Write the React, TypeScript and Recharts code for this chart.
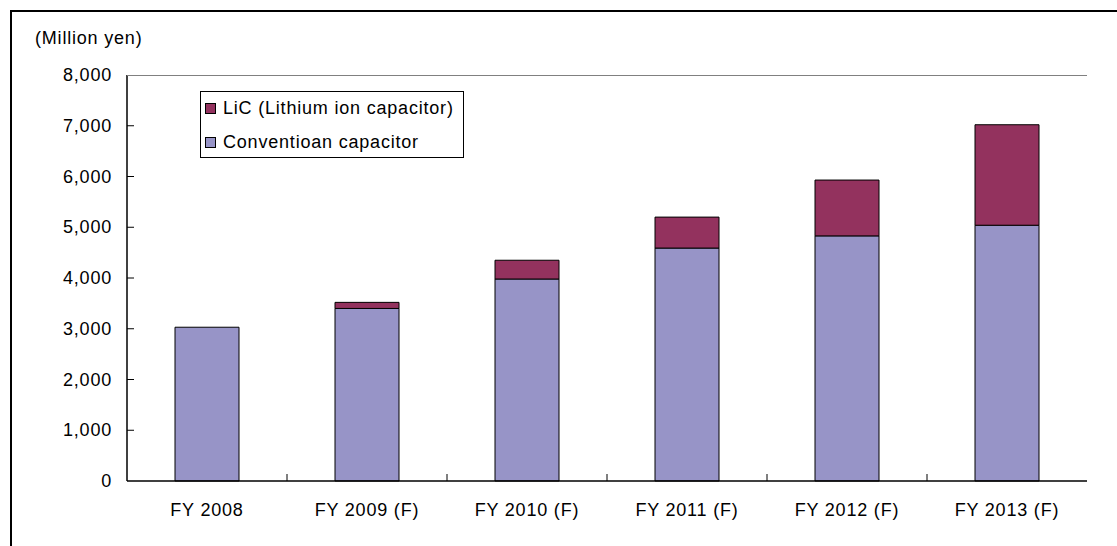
import React from "react";
import { BarChart, Bar, XAxis, YAxis } from "recharts";

const categories = ["FY 2008", "FY 2009 (F)", "FY 2010 (F)", "FY 2011 (F)", "FY 2012 (F)", "FY 2013 (F)"];
const conventional = [3030, 3400, 3980, 4590, 4830, 5040];
const lic = [0, 120, 370, 610, 1100, 1980];
const yTicks = [0, 1000, 2000, 3000, 4000, 5000, 6000, 7000, 8000];

const data = categories.map((c, i) => ({ name: c, conv: conventional[i], lic: lic[i] }));

const CONV_COLOR = "#9794c7";
const LIC_COLOR = "#93325e";
const FONT = "'Liberation Sans', Arial, sans-serif";
const FS = 18;
const LS = 0.8;
const PLOT_LEFT = 127;
const BAND = 160;

const YTick = (props: any) => {
  const { y, payload } = props;
  return (
    <g>
      {payload.value !== 0 && payload.value !== 8000 && (
        <line x1={PLOT_LEFT} x2={PLOT_LEFT + 7} y1={y} y2={y} stroke="#000" strokeWidth={1} />
      )}
      <text x={112} y={y} dy={6} textAnchor="end" fontSize={FS} letterSpacing={LS} fill="#000" fontFamily={FONT}>
        {payload.value.toLocaleString("en-US")}
      </text>
    </g>
  );
};

const XTick = (props: any) => {
  const { x, y, payload, index } = props;
  const axisY = y - 8;
  return (
    <g>
      {index < categories.length - 1 && (
        <line x1={x + BAND / 2} x2={x + BAND / 2} y1={axisY} y2={axisY - 7} stroke="#000" strokeWidth={1} />
      )}
      <text x={x} y={axisY + 35} textAnchor="middle" fontSize={FS} letterSpacing={LS} fill="#000" fontFamily={FONT}>
        {payload.value}
      </text>
    </g>
  );
};

const LegendBox = () => {
  const items = [
    { label: "LiC (Lithium ion capacitor)", color: LIC_COLOR },
    { label: "Conventioan capacitor", color: CONV_COLOR },
  ];
  return (
    <div
      style={{
        position: "absolute",
        left: 200,
        top: 91,
        border: "1px solid #000",
        background: "#fff",
        width: 264,
        height: 67,
        boxSizing: "border-box",
        padding: "1px 0 0 4px",
        fontFamily: FONT,
        fontSize: FS,
        letterSpacing: LS,
        color: "#000",
      }}
    >
      {items.map((it) => (
        <div key={it.label} style={{ display: "flex", alignItems: "center", height: 30, marginBottom: 4, whiteSpace: "nowrap" }}>
          <span
            style={{
              display: "inline-block",
              width: 11,
              height: 11,
              background: it.color,
              border: "1px solid #000",
              boxSizing: "border-box",
              marginRight: 7,
            }}
          />
          {it.label}
        </div>
      ))}
    </div>
  );
};

export default function App() {
  return (
    <div style={{ position: "absolute", left: 0, top: 0, width: 1117, height: 546, background: "#fff", overflow: "hidden" }}>
      <div
        style={{
          position: "absolute",
          left: 10,
          top: 10,
          width: 1200,
          height: 600,
          borderTop: "2px solid #000",
          borderLeft: "2px solid #000",
        }}
      />
      <div style={{ position: "absolute", left: 35, top: 28, fontFamily: FONT, fontSize: FS, letterSpacing: LS, color: "#000" }}>
        (Million yen)
      </div>
      <div style={{ position: "absolute", left: 0, top: 0 }}>
        <BarChart
          width={1117}
          height={546}
          data={data}
          margin={{ top: 75, right: 30, bottom: 35, left: 67 }}
          barCategoryGap="30%"
        >
          <XAxis
            dataKey="name"
            height={30}
            axisLine={{ stroke: "#000", strokeWidth: 1.5 }}
            tickLine={false}
            tick={<XTick />}
            interval={0}
          />
          <YAxis
            yAxisId="l"
            width={60}
            domain={[0, 8000]}
            ticks={yTicks}
            axisLine={{ stroke: "#000", strokeWidth: 1.5 }}
            tickLine={false}
            tick={<YTick />}
            interval={0}
          />
          <YAxis
            yAxisId="r"
            orientation="right"
            width={0}
            domain={[0, 8000]}
            ticks={[8000]}
            axisLine={{ stroke: "#808080", strokeWidth: 1 }}
            tickLine={false}
            tick={false}
          />
          <Bar yAxisId="l" dataKey="conv" stackId="a" fill={CONV_COLOR} stroke="#000" strokeWidth={1} isAnimationActive={false} />
          <Bar yAxisId="l" dataKey="lic" stackId="a" fill={LIC_COLOR} stroke="#000" strokeWidth={1} isAnimationActive={false} />
        </BarChart>
      </div>
      <div style={{ position: "absolute", left: 127, top: 75, width: 960, height: 0, borderTop: "1px solid #808080" }} />
      <LegendBox />
    </div>
  );
}
